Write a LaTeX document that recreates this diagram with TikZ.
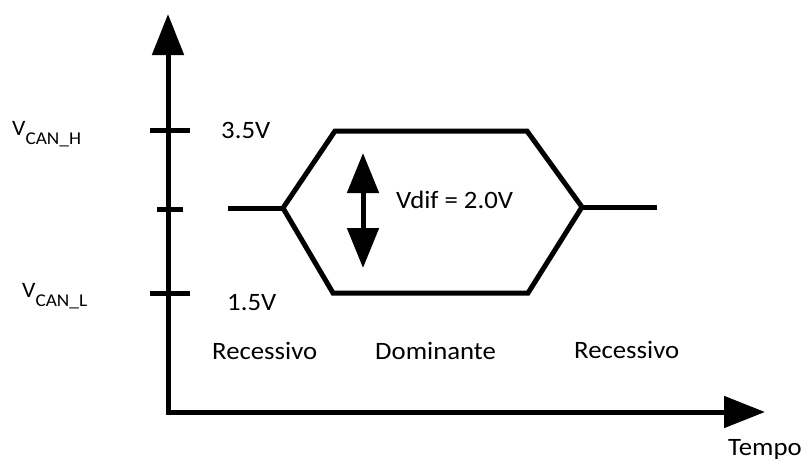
\documentclass[tikz,border=0pt]{standalone}
\usepackage{fontspec}
\setmainfont{Carlito}[FakeStretch=1.07]
\usetikzlibrary{arrows.meta}

% V with a lowered subscript label, e.g. V_CAN_H
\newcommand{\vcanlabel}[1]{{\fontsize{22}{22}\selectfont V}\raisebox{-9pt}{\fontsize{18}{18}\selectfont CAN\_#1}}

\begin{document}
\begin{tikzpicture}[x=1pt,y=-1pt,
  thick line/.style={line width=5pt, line join=miter, draw=black},
  big tip/.tip={Triangle[length=41pt,width=31pt]},
  arrow tip/.tip={Triangle[length=40pt,width=31pt]},
  label text/.style={anchor=base west, inner sep=0pt, text=black,
    font=\fontsize{25}{28}\selectfont},
]
\useasboundingbox (0,0) rectangle (805,463);

% axes
\coordinate (ytop) at (168,14);
\coordinate (origin) at (168,412);
\coordinate (xend) at (765,412);
\draw[thick line, big tip-big tip] (ytop) -- (origin) -- (xend);

% ticks on the voltage axis
\coordinate (th1) at (150,130); \coordinate (th2) at (190,130);
\coordinate (tm1) at (157,209); \coordinate (tm2) at (183,209);
\coordinate (tl1) at (150,293); \coordinate (tl2) at (190,293);
\draw[thick line] (th1) -- (th2);
\draw[thick line] (tm1) -- (tm2);
\draw[thick line] (tl1) -- (tl2);

% bus levels: recessive lead-in, dominant envelope, recessive tail
\coordinate (r1a) at (228,208);
\coordinate (sl) at (283,208);
\coordinate (hl) at (335,131);
\coordinate (hr) at (527,131);
\coordinate (sr) at (582,207);
\coordinate (lr) at (528,293);
\coordinate (ll) at (333,293);
\coordinate (r2b) at (657,207);
\draw[thick line] (r1a) -- (sl);
\draw[thick line] (sl) -- (hl) -- (hr) -- (sr) -- (lr) -- (ll) -- cycle;
\draw[thick line] (sr) -- (r2b);

% differential voltage arrow
\coordinate (da) at (363,153);
\coordinate (db) at (363,268);
\draw[thick line, arrow tip-arrow tip] (da) -- (db);

% labels
\node[label text] (vh) at (12,135) {\vcanlabel{H}};
\node[label text] (vl) at (22,297) {\vcanlabel{L}};
\node[label text] (v35) at (221,138) {3.5V};
\node[label text] (v15) at (227,310) {1.5V};
\node[label text] (vdif) at (396,208) {Vdif = 2.0V};
\node[label text] (rec1) at (212,359) {Recessivo};
\node[label text] (dom) at (375,359) {Dominante};
\node[label text] (rec2) at (574,358) {Recessivo};
\node[label text] (tempo) at (728,455) {Tempo};
\end{tikzpicture}
\end{document}
